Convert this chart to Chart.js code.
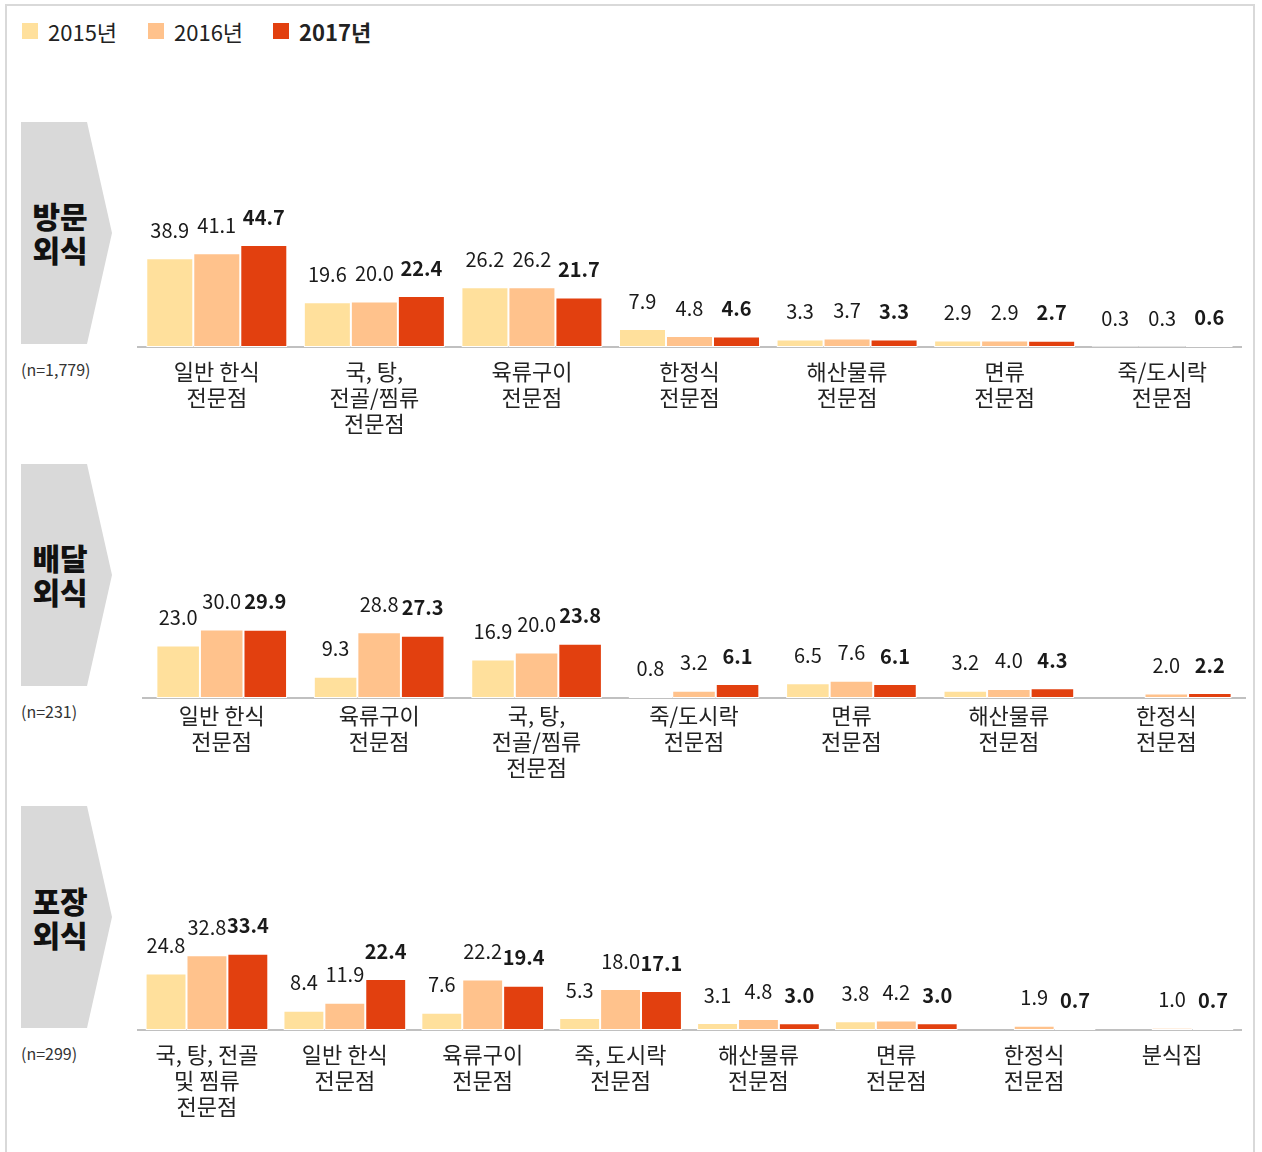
<!DOCTYPE html>
<html>
<head>
<meta charset="utf-8">
<script src="https://cdn.jsdelivr.net/npm/chart.js@4.4.0/dist/chart.umd.min.js"></script>
<style>
  body { margin: 0; background: #fff; font-family: 'Noto Sans CJK KR', 'Noto Sans', sans-serif; color: #222; }
  #frame { position: absolute; left: 5px; top: 4px; width: 1246px; height: 1160px; border: 2px solid #d9d9d9; }
  .legend { position: absolute; top: 18px; font-size: 22px; line-height: 26px; display: flex; align-items: center; }
  .legend i { display: inline-block; width: 16px; height: 16px; margin-right: 10px; }
  .chev { position: absolute; left: 21px; width: 91px; height: 222px; background: #d9d9d9;
          clip-path: polygon(0 0, 66px 0, 91px 111px, 66px 222px, 0 222px); }
  .chevText { position: absolute; left: 21px; width: 78px; text-align: center; font-size: 30px; font-weight: 900; line-height: 34px; color: #111; }
  .nText { position: absolute; left: 21px; font-size: 16px; color: #333; }
  canvas { position: absolute; }
</style>
</head>
<body>
<div id="frame"></div>
<div class="legend" style="left:22px"><i style="background:#FFE09C"></i>2015년</div>
<div class="legend" style="left:148px"><i style="background:#FFC28C"></i>2016년</div>
<div class="legend" style="left:273px;font-weight:bold"><i style="background:#E2400F"></i>2017년</div>

<div class="chev" style="top:122px"></div>
<div class="chevText" style="top:198px">방문<br>외식</div>
<div class="nText" style="top:357px">(n=1,779)</div>

<div class="chev" style="top:464px"></div>
<div class="chevText" style="top:540px">배달<br>외식</div>
<div class="nText" style="top:699px">(n=231)</div>

<div class="chev" style="top:806px"></div>
<div class="chevText" style="top:883px">포장<br>외식</div>
<div class="nText" style="top:1041px">(n=299)</div>

<canvas id="c1" style="left:130px;top:100px" width="1125" height="360"></canvas>
<canvas id="c2" style="left:130px;top:451px" width="1125" height="360"></canvas>
<canvas id="c3" style="left:130px;top:783px" width="1125" height="360"></canvas>

<script>
// --- data ---
var years = ['2015년', '2016년', '2017년'];
var yearColors = ['#FFE09C', '#FFC28C', '#E2400F'];

var visitLabels = [['일반 한식', '전문점'], ['국, 탕,', '전골/찜류', '전문점'], ['육류구이', '전문점'], ['한정식', '전문점'], ['해산물류', '전문점'], ['면류', '전문점'], ['죽/도시락', '전문점']];
var visit2015 = [38.9, 19.6, 26.2, 7.9, 3.3, 2.9, 0.3];
var visit2016 = [41.1, 20.0, 26.2, 4.8, 3.7, 2.9, 0.3];
var visit2017 = [44.7, 22.4, 21.7, 4.6, 3.3, 2.7, 0.6];

var deliveryLabels = [['일반 한식', '전문점'], ['육류구이', '전문점'], ['국, 탕,', '전골/찜류', '전문점'], ['죽/도시락', '전문점'], ['면류', '전문점'], ['해산물류', '전문점'], ['한정식', '전문점']];
var delivery2015 = [23.0, 9.3, 16.9, 0.8, 6.5, 3.2, null];
var delivery2016 = [30.0, 28.8, 20.0, 3.2, 7.6, 4.0, 2.0];
var delivery2017 = [29.9, 27.3, 23.8, 6.1, 6.1, 4.3, 2.2];

var takeoutLabels = [['국, 탕, 전골', '및 찜류', '전문점'], ['일반 한식', '전문점'], ['육류구이', '전문점'], ['죽, 도시락', '전문점'], ['해산물류', '전문점'], ['면류', '전문점'], ['한정식', '전문점'], ['분식집']];
var takeout2015 = [24.8, 8.4, 7.6, 5.3, 3.1, 3.8, null, null];
var takeout2016 = [32.8, 11.9, 22.2, 18.0, 4.8, 4.2, 1.9, 1.0];
var takeout2017 = [33.4, 22.4, 19.4, 17.1, 3.0, 3.0, 0.7, 0.7];

var FONT = "'Noto Sans CJK KR', 'Noto Sans', sans-serif";

// draws the numbers above each bar (2017 in bold)
var valueLabels = {
    id: 'valueLabels',
    afterDatasetsDraw: function(chart) {
        var ctx = chart.ctx;
        ctx.save();
        ctx.textAlign = 'center';
        ctx.textBaseline = 'middle';
        ctx.fillStyle = '#1a1a1a';
        chart.data.datasets.forEach(function(ds, i) {
            var meta = chart.getDatasetMeta(i);
            ctx.font = (i === 2 ? 'bold ' : '') + '20px ' + FONT;
            meta.data.forEach(function(bar, j) {
                var v = ds.data[j];
                if (v === null) return;
                ctx.fillText(v.toFixed(1), bar.x, bar.y - 28);
            });
        });
        ctx.restore();
    }
};

function makeChart(id, labels, series, catPct, padLeft, padRight, tickPad) {
    return new Chart(document.getElementById(id), {
        type: 'bar',
        data: {
            labels: labels,
            datasets: series.map(function(s, i) {
                return {
                    label: years[i],
                    data: s,
                    backgroundColor: yearColors[i],
                    borderColor: '#ffffff',
                    borderWidth: 1,
                    borderSkipped: false,
                    barPercentage: 1,
                    categoryPercentage: catPct
                };
            })
        },
        options: {
            responsive: false,
            animation: false,
            layout: { padding: { top: 19, left: padLeft, right: padRight, bottom: 0 } },
            plugins: { legend: { display: false }, tooltip: { enabled: false } },
            scales: {
                y: { display: false, min: 0, max: 100 },
                x: {
                    grid: { display: false, drawTicks: false },
                    border: { display: true, color: '#c0c0c0', width: 2 },
                    ticks: { color: '#222', padding: tickPad, font: { family: FONT, size: 22, lineHeight: 1.18 } },
                    afterFit: function(scale) { scale.height = 113; }
                }
            }
        },
        plugins: [valueLabels]
    });
}

makeChart('c1', visitLabels, [visit2015, visit2016, visit2017], 0.895, 8, 14, 12);
makeChart('c2', deliveryLabels, [delivery2015, delivery2016, delivery2017], 0.83, 13, 10, 5);
makeChart('c3', takeoutLabels, [takeout2015, takeout2016, takeout2017], 0.89, 8, 14, 12);
</script>
</body>
</html>
